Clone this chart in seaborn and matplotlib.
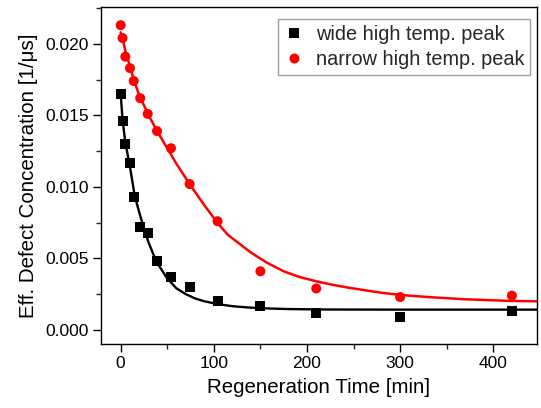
import matplotlib
matplotlib.use("Agg")
import matplotlib.pyplot as plt
import seaborn as sns
import pandas as pd
from matplotlib.ticker import MultipleLocator

# measured data
time_min = [0, 2, 5, 10, 14, 21, 29, 39, 54, 74, 104, 150, 210, 300, 420]
wide_peak = [0.0165, 0.0146, 0.0130, 0.0117, 0.0093, 0.0072, 0.0068, 0.0048,
             0.0037, 0.0030, 0.0020, 0.0017, 0.0012, 0.0009, 0.0013]
narrow_peak = [0.0213, 0.0204, 0.0191, 0.0183, 0.0174, 0.0162, 0.0151, 0.0139,
               0.0127, 0.0102, 0.0076, 0.0041, 0.0029, 0.0023, 0.0024]

# fitted curves
fit_time_wide = [0, 2, 5, 10, 15, 20, 25, 30, 35, 40, 45, 50, 60, 70, 80, 90, 105,
                 120, 135, 150, 180, 220, 300, 450]
fit_wide = [0.0165, 0.0147, 0.0131, 0.0114, 0.0094, 0.0082, 0.0071, 0.0061,
            0.0053, 0.0046, 0.0041, 0.0036, 0.0029, 0.0025, 0.0022, 0.0020, 0.0018,
            0.00166, 0.00158, 0.00152, 0.00146, 0.00143, 0.00142, 0.00142]
fit_time_narrow = [0, 2, 5, 10, 15, 20, 30, 40, 50, 60, 75, 90, 105, 115, 128,
                   140, 157, 175, 192, 210, 228, 245, 260, 280, 300, 330, 368,
                   418, 450]
fit_narrow = [0.0208, 0.0204, 0.0195, 0.0184, 0.0173, 0.0164, 0.0150, 0.0138,
              0.0127, 0.0116, 0.0101, 0.0087, 0.0074, 0.00665, 0.0060,
              0.0054, 0.0047, 0.0041, 0.0037, 0.0034, 0.00315, 0.00295,
              0.0028, 0.0026, 0.00245, 0.0023, 0.00215, 0.00203, 0.0020]

labels = ["wide high temp. peak", "narrow high temp. peak"]

sns.set_theme(style="white")
plt.rcParams['font.family'] = ['Liberation Sans', 'DejaVu Sans']

fig = plt.figure(figsize=(5.41, 4.08), dpi=100)
ax = fig.add_axes([101.3 / 541, 1 - 343.7 / 408, (536.7 - 101.3) / 541, (343.7 - 7.3) / 408])

sns.lineplot(x=fit_time_wide, y=fit_wide, ax=ax, color="black", linewidth=1.7,
             estimator=None, sort=False)
sns.lineplot(x=fit_time_narrow, y=fit_narrow, ax=ax, color="#ff0000", linewidth=1.8,
             estimator=None, sort=False)

df = pd.DataFrame({"t": time_min * 2,
                   "v": wide_peak + narrow_peak,
                   "s": [labels[0]] * len(time_min) + [labels[1]] * len(time_min)})
sns.scatterplot(data=df, x="t", y="v", hue="s", style="s",
                palette={labels[0]: "black", labels[1]: "#ff0000"},
                markers={labels[0]: "s", labels[1]: "o"},
                s=52, linewidth=0, ax=ax, zorder=3)

ax.set_xlim(-20.8, 446.6)
ax.set_ylim(-0.00096, 0.02255)
ax.xaxis.set_major_locator(MultipleLocator(100))
ax.xaxis.set_minor_locator(MultipleLocator(50))
ax.yaxis.set_major_locator(MultipleLocator(0.005))
ax.yaxis.set_minor_locator(MultipleLocator(0.0025))
ax.yaxis.set_major_formatter(matplotlib.ticker.FormatStrFormatter('%.3f'))
ax.tick_params(which="major", direction="out", length=6, width=1, labelsize=12.5,
               colors="black", bottom=True, left=True, pad=3)
ax.tick_params(which="minor", direction="out", length=3.5, width=1,
               bottom=True, left=True)
for sp in ax.spines.values():
    sp.set_color("black")
    sp.set_linewidth(1.0)

ax.set_xlabel("Regeneration Time [min]", fontsize=14.8, color="black", labelpad=5)
ax.set_ylabel("Eff. Defect Concentration [1/μs]", fontsize=14.8, color="black", labelpad=5)

leg = ax.legend(title=None, loc="upper right", bbox_to_anchor=(0.9846, 0.965),
                borderaxespad=0.0,
                fontsize=14.3, frameon=True, fancybox=False, edgecolor="#888888",
                handletextpad=0.6, borderpad=0.3, labelspacing=0.3,
                handlelength=1.0, markerscale=1.0)
leg.get_frame().set_linewidth(1.0)

fig.savefig("out.png", dpi=100)
